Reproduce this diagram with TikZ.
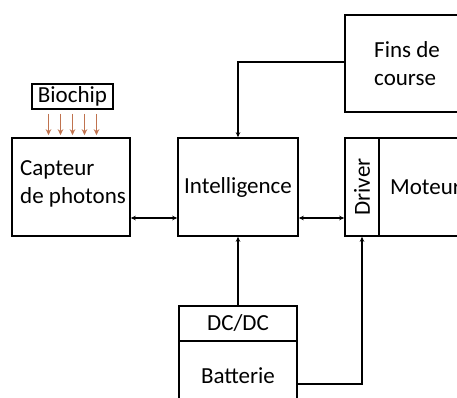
\documentclass[tikz,border=0pt]{standalone}
\usepackage{fontspec}
\setmainfont{Carlito}
\usetikzlibrary{arrows.meta,calc}
\definecolor{photon}{HTML}{C0734F}
\begin{document}
\begin{tikzpicture}[x=1pt,y=-1pt,
  blk/.style={draw,line width=1.6pt,rectangle,inner sep=0pt,font=\fontsize{23}{28}\selectfont},
  lbl/.style={font=\fontsize{23}{28}\selectfont,align=left,anchor=west,inner sep=0pt},
  conn/.style={line width=1.6pt,{Stealth[length=5pt,width=4.5pt]}-{Stealth[length=5pt,width=4.5pt]}},
  oneway/.style={line width=1.6pt,-{Stealth[length=5pt,width=4.5pt]}},
  photonarrow/.style={draw=photon,fill=photon,line width=1.6pt,-{Stealth[length=6pt,width=5.5pt]}}]
\useasboundingbox (0,0) rectangle (457,398);
\clip (0,0) rectangle (457,398);
% blocks
\node[blk,minimum width=81pt,minimum height=25pt] (biochip) at (72.5,96.5) {Biochip};
\node[blk,minimum width=118pt,minimum height=98pt] (capteur) at (71,187) {};
\node[lbl] (capteurlabel) at (20,184) {Capteur\\de photons};
\node[blk,minimum width=120pt,minimum height=98pt] (intel) at (238,187) {Intelligence};
\node[blk,minimum width=125pt,minimum height=97pt] (fins) at (407.5,63.5) {};
\node[lbl] (finslabel) at (374,63.5) {Fins de\\course};
\node[blk,minimum width=34pt,minimum height=98pt] (driver) at (362,187) {\rotatebox{90}{Driver}};
\node[blk,minimum width=91pt,minimum height=98pt] (moteur) at (424.5,187) {};
\node[lbl] (moteurlabel) at (390,187) {Moteur};
\node[blk,minimum width=118pt,minimum height=35pt] (dcdc) at (238,323.5) {DC/DC};
\node[blk,minimum width=118pt,minimum height=69pt] (batt) at (238,375.5) {Batterie};
% photon arrows
\foreach \dx in {-24,-12,0,12,24}{
  \draw[photonarrow] ([xshift=\dx pt,yshift=-4pt]biochip.south) -- ([xshift=\dx pt,yshift=2pt]biochip.south |- capteur.north);
}
% connectors
\draw[conn] ([yshift=-31pt]capteur.east) -- ([yshift=-31pt]intel.west);
\draw[conn] ([yshift=-31pt]intel.east) -- ([yshift=-31pt]driver.west);
\draw[oneway] ([yshift=1.5pt]fins.west) -| (intel.north);
\draw[oneway] (dcdc.north) -- (intel.south);
\draw[oneway] ([yshift=-8.5pt]batt.east) -| (driver.south);
\end{tikzpicture}
\end{document}
